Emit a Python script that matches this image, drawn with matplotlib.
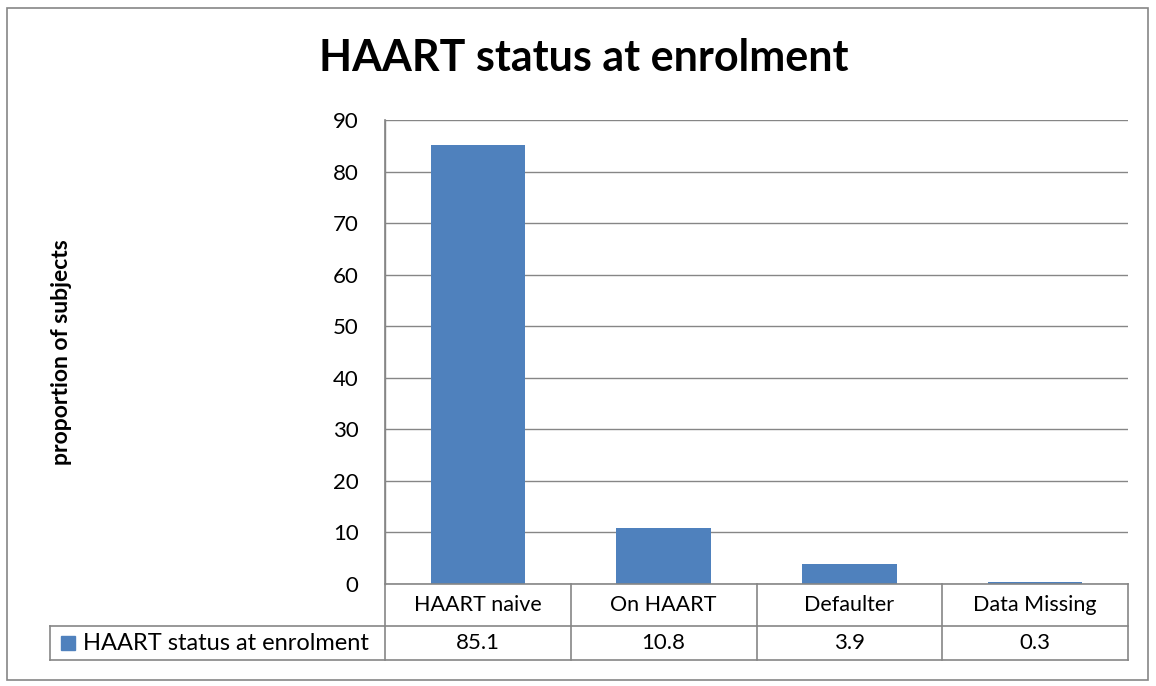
import matplotlib
matplotlib.use("Agg")
import matplotlib.pyplot as plt
from matplotlib.lines import Line2D
from matplotlib.patches import Rectangle

categories = ["HAART naive", "On HAART", "Defaulter", "Data Missing"]
values = [85.1, 10.8, 3.9, 0.3]
value_labels = ["85.1", "10.8", "3.9", "0.3"]
series_name = "HAART status at enrolment"
title = "HAART status at enrolment"
ylabel = "proportion of subjects"
yticks = [0, 10, 20, 30, 40, 50, 60, 70, 80, 90]

W, H = 1156, 686
fig = plt.figure(figsize=(W / 100, H / 100), dpi=100)
plt.rcParams['font.family'] = ['Lato', 'DejaVu Sans']

BAR = "#4F81BD"
GRID = "#868686"
FS = 15.5

def fx(px):
    return px / W

def fy(py):
    return 1 - py / H

# outer border
fig.add_artist(Rectangle((fx(7), fy(680)), fx(1148) - fx(7), fy(8) - fy(680),
                         transform=fig.transFigure, fill=False, edgecolor=GRID, lw=1.2))

x0, x1, ytop, ybot = 385, 1128, 120, 584
ax = fig.add_axes([fx(x0), fy(ybot), fx(x1) - fx(x0), fy(ytop) - fy(ybot)])
n = len(categories)
ax.bar(range(n), values, width=0.51, color=BAR, zorder=3)
ax.set_xlim(-0.5, n - 0.5)
ax.set_ylim(0, 90)
ax.set_yticks(yticks)
ax.set_yticklabels([str(t) for t in yticks], fontsize=16)
ax.tick_params(axis='y', length=0, pad=19)
ax.tick_params(axis='x', length=0, labelbottom=False)
ax.grid(axis='y', color=GRID, lw=1.0, zorder=0)
for s in ['top', 'right', 'bottom']:
    ax.spines[s].set_visible(False)
ax.spines['left'].set_color(GRID)
ax.spines['left'].set_linewidth(1.0)
ax.set_facecolor('none')

fig.text(fx(584), fy(58), title, fontsize=31, fontweight='bold', ha='center', va='center')
fig.text(fx(62), fy(352), ylabel, fontsize=16.5, fontweight='bold', rotation=90,
         ha='center', va='center')

# data table
ymid, ytab = 626, 660
lab_x0 = 50
col_w = (x1 - x0) / n

def hline(y, xa, xb):
    fig.add_artist(Line2D([fx(xa), fx(xb)], [fy(y), fy(y)], transform=fig.transFigure,
                          color=GRID, lw=1.2))

def vline(x, ya, yb):
    fig.add_artist(Line2D([fx(x), fx(x)], [fy(ya), fy(yb)], transform=fig.transFigure,
                          color=GRID, lw=1.2))

hline(ybot, x0, x1)
hline(ymid, lab_x0, x1)
hline(ytab, lab_x0, x1)
vline(lab_x0, ymid, ytab)
for i in range(n + 1):
    vline(x0 + i * col_w, ybot if i > 0 else ytop, ytab)

for i, (c, v) in enumerate(zip(categories, value_labels)):
    cx = x0 + (i + 0.5) * col_w
    fig.text(fx(cx), fy((ybot + ymid) / 2), c, fontsize=FS, ha='center', va='center')
    fig.text(fx(cx), fy((ymid + ytab) / 2), v, fontsize=16, ha='center', va='center')

fig.add_artist(Rectangle((fx(61), fy(650)), fx(75) - fx(61), fy(636) - fy(650),
                         transform=fig.transFigure, color=BAR))
fig.text(fx(83), fy((ymid + ytab) / 2), series_name, fontsize=17, ha='left', va='center')

fig.savefig("out.png", dpi=100)
